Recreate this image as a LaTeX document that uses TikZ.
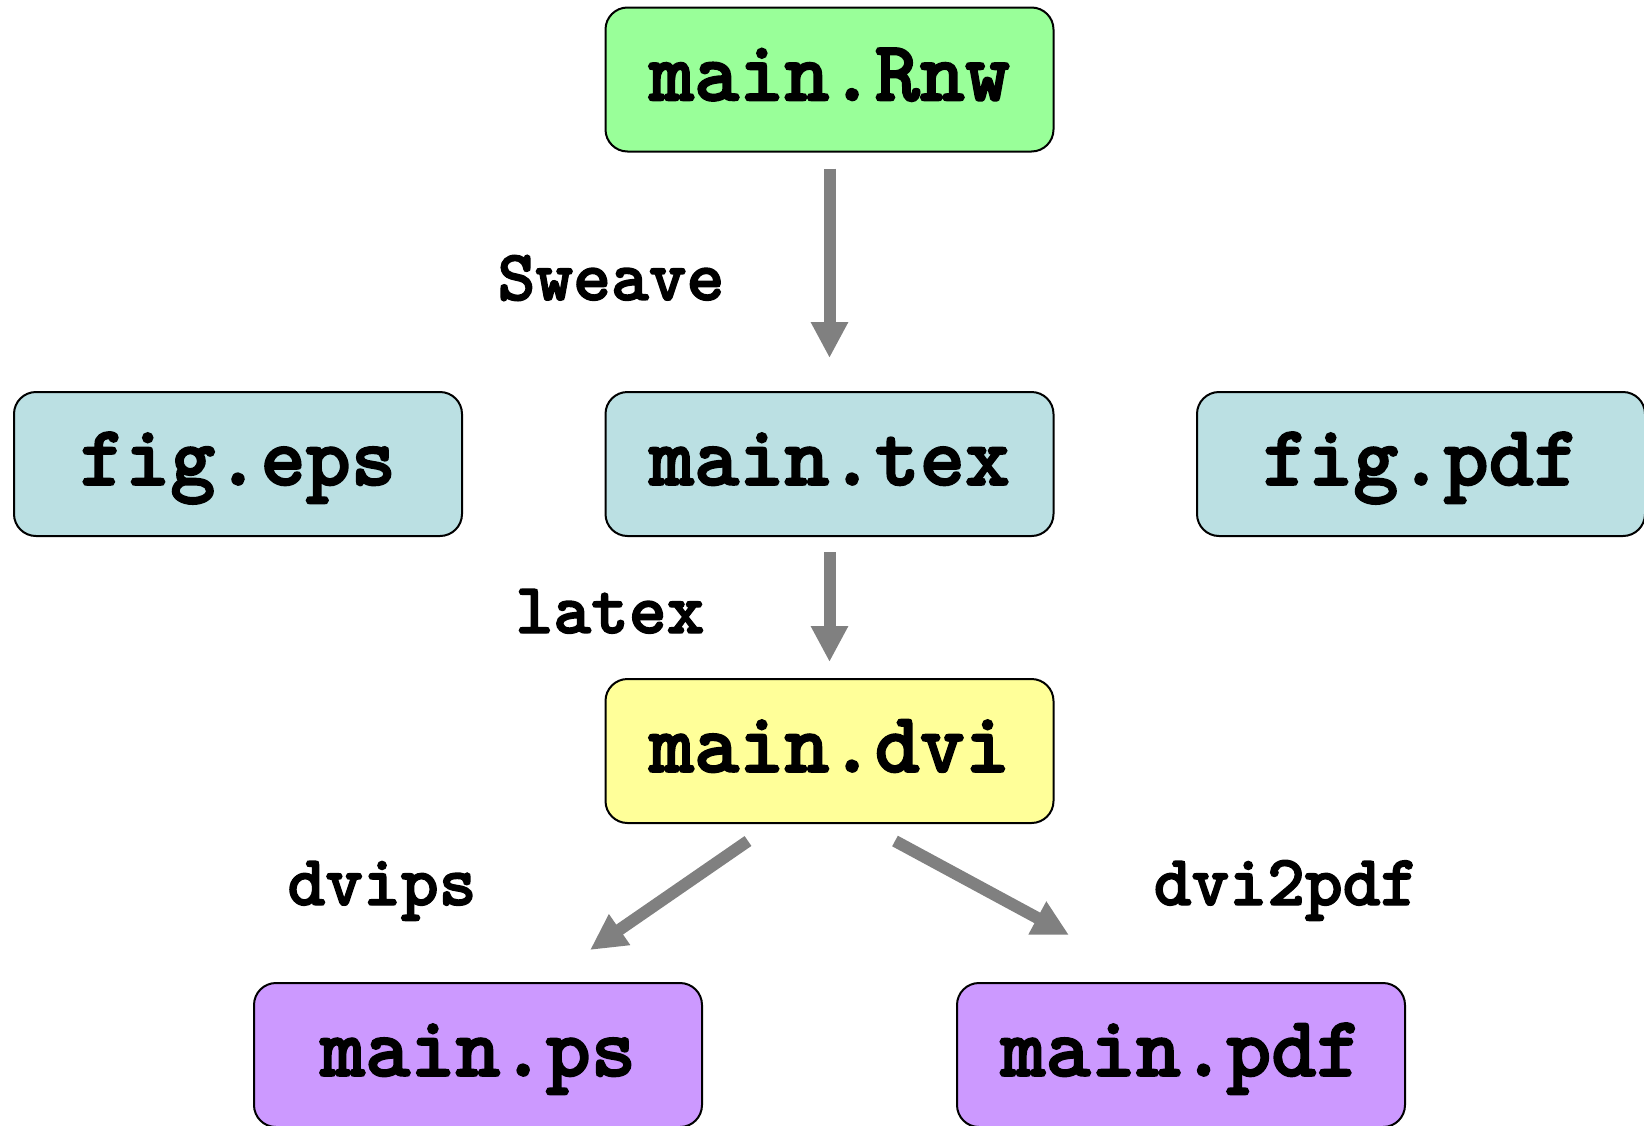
\documentclass[tikz,border=0pt]{standalone}
\usepackage{fontspec}
\newfontfamily\cour{lmmonolt10-bold.otf}[FakeBold=2]
\usetikzlibrary{arrows.meta,calc}
\definecolor{cgreen}{RGB}{153,255,153}
\definecolor{cblue}{RGB}{187,224,227}
\definecolor{cyellow}{RGB}{255,255,153}
\definecolor{cpurple}{RGB}{204,153,255}
\definecolor{cgray}{RGB}{128,128,128}
\tikzset{
  filebox/.style={draw=black, line width=1pt, rounded corners=11pt,
    minimum width=224pt, minimum height=72pt, inner sep=0pt,
    text height=28pt, text depth=7pt,
    font=\cour\fontsize{43}{50}\selectfont},
  steplabel/.style={anchor=base, inner sep=0pt,
    font=\cour\fontsize{36}{42}\selectfont},
  flow/.style={draw=cgray, line width=6pt,
    -{Triangle[width=17.5pt,length=18pt]}}
}
\begin{document}
\begin{tikzpicture}[x=0.5pt,y=-0.5pt]
\useasboundingbox (0,0) rectangle (1644,1125);
\node[filebox, fill=cgreen]  (rnw) at (829.5,79.5) {main.Rnw};
\node[filebox, fill=cblue]   (tex) at (829.5,464) {main.tex};
\node[filebox, fill=cblue]   (eps) at (238,464) {fig.eps};
\node[filebox, fill=cblue]   (figpdf) at (1421,464) {fig.pdf};
\node[filebox, fill=cyellow] (dvi) at (829.5,751) {main.dvi};
\node[filebox, fill=cpurple] (ps)  at (478,1055) {main.ps};
\node[filebox, fill=cpurple] (pdf) at (1181,1055) {main.pdf};

\node[steplabel] (lsweave) at (611,300) {Sweave};
\node[steplabel] (llatex)  at (610,633) {latex};
\node[steplabel] (ldvips)  at (382,905) {dvips};
\node[steplabel] (ldvipdf) at (1286,905) {dvi2pdf};

\draw[flow, shorten <=8pt, shorten >=16.5pt] (rnw.south) -- (tex.north);
\draw[flow, shorten <=7.5pt, shorten >=8pt] (tex.south) -- (dvi.north);
\draw[flow] ($(dvi.south)+(-81.5,17)$) -- ($(ps.north)+(112,-32)$);
\draw[flow] ($(dvi.south)+(65.5,17)$) -- ($(pdf.north)+(-112,-47)$);
\end{tikzpicture}
\end{document}
